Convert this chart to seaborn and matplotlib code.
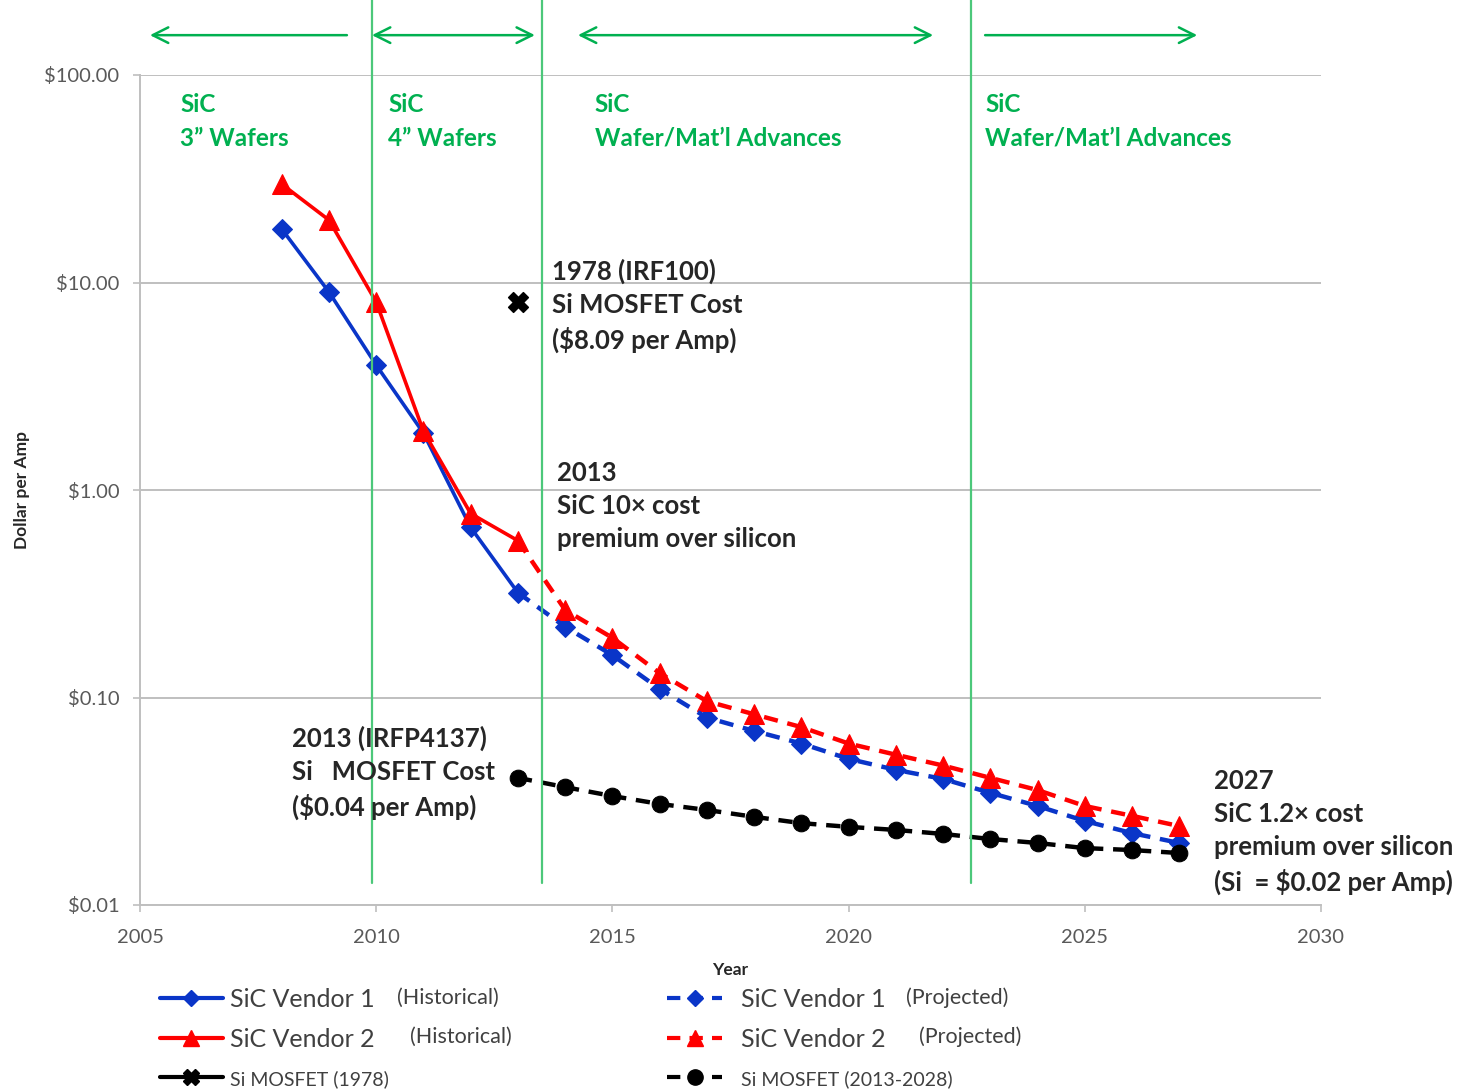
import numpy as np
import pandas as pd
import seaborn as sns
from matplotlib import pyplot as plt
from matplotlib.lines import Line2D
from matplotlib.ticker import FixedLocator, NullLocator, FuncFormatter

# --- data ---
years_hist = [2008, 2009, 2010, 2011, 2012, 2013]
v1_hist = [18.1, 9.0, 4.0, 1.88, 0.66, 0.32]
v2_hist = [29.8, 20.0, 8.05, 1.92, 0.77, 0.57]

years_proj = list(range(2013, 2028))
v1_proj = [0.32, 0.219, 0.16, 0.11, 0.080, 0.069, 0.060, 0.0506, 0.0448,
           0.0405, 0.0347, 0.030, 0.0254, 0.0222, 0.0199]
v2_proj = [0.57, 0.264, 0.194, 0.131, 0.096, 0.083, 0.072, 0.060, 0.053,
           0.047, 0.041, 0.0358, 0.030, 0.0269, 0.024]
si_proj = [0.041, 0.037, 0.0335, 0.0307, 0.0287, 0.0266, 0.0248, 0.0238,
           0.023, 0.022, 0.0208, 0.0199, 0.0188, 0.0184, 0.0178]

si_1978_year = [2013]
si_1978_cost = [8.09]

era_bounds = [2009.92, 2013.5, 2022.6]
yticks = [0.01, 0.1, 1, 10, 100]
xticks = [2005, 2010, 2015, 2020, 2025, 2030]

BLUE = '#0A35C8'
RED = '#FF0000'
GREEN_TXT = '#00B050'
GREEN_LN = '#4CC87A'
DARK = '#262626'

sns.set_theme(style="white")
plt.rcParams['font.family'] = ['Lato', 'DejaVu Sans']

fig = plt.figure(figsize=(14.78, 10.89), dpi=100)
ax = fig.add_axes([140 / 1478, 1 - 905 / 1089, 1181 / 1478, 830 / 1089])

dash = (0, (3.2, 2.2))
sns.lineplot(x=years_hist, y=v1_hist, ax=ax, color=BLUE, lw=2.6, marker='D',
             ms=10, markeredgecolor=BLUE)
sns.lineplot(x=years_hist, y=v2_hist, ax=ax, color=RED, lw=2.6, marker='^',
             ms=14, markeredgecolor=RED)
sns.lineplot(x=years_proj[1:], y=v1_proj[1:], ax=ax, color=BLUE, lw=3.2,
             linestyle='', marker='D', ms=10, markeredgecolor=BLUE)
sns.lineplot(x=years_proj[1:], y=v2_proj[1:], ax=ax, color=RED, lw=3.2,
             linestyle='', marker='^', ms=14, markeredgecolor=RED)
sns.lineplot(x=years_proj, y=v1_proj, ax=ax, color=BLUE, lw=3.2, linestyle=dash)
sns.lineplot(x=years_proj, y=v2_proj, ax=ax, color=RED, lw=3.2, linestyle=dash)
sns.lineplot(x=years_proj, y=si_proj, ax=ax, color='black', lw=3.2,
             linestyle=dash, marker='o', ms=12, markeredgecolor='black')
sns.scatterplot(x=si_1978_year, y=si_1978_cost, ax=ax, color='black',
                marker='X', s=200, edgecolor='black', zorder=5)

ax.set_yscale('log')
ax.set_ylim(0.01, 100)
ax.set_xlim(2005, 2030)
ax.yaxis.set_major_locator(FixedLocator(yticks))
ax.yaxis.set_minor_locator(NullLocator())
ax.yaxis.set_major_formatter(FuncFormatter(lambda v, p: f'${v:,.2f}'))
ax.set_xticks(xticks)
ax.grid(axis='y', color='#BFBFBF', lw=1.4)
ax.grid(axis='x', visible=False)
for s in ['top', 'right']:
    ax.spines[s].set_visible(False)
for s in ['left', 'bottom']:
    ax.spines[s].set_color('#BFBFBF')
    ax.spines[s].set_linewidth(1.4)
ax.tick_params(axis='both', colors='#BFBFBF', labelcolor='#595959',
               labelsize=14.5, length=5, width=1.2, direction='out',
               left=True, bottom=True)
ax.tick_params(axis='y', pad=10)
ax.tick_params(axis='x', pad=12)
ax.set_xlabel('Year', fontsize=12.5, fontweight='bold', color=DARK, labelpad=12)
ax.set_ylabel('Dollar per Amp', fontsize=12.5, fontweight='bold', color=DARK,
              labelpad=10)

# era dividers and arrows
for xb in era_bounds:
    ax.axvline(xb, ymin=0.027, ymax=1.09, color=GREEN_LN, lw=1.6, clip_on=False)

arrows = [(2009.38, 2005.21, '->'), (2009.91, 2013.36, '<->'),
          (2014.27, 2021.79, '<->'), (2022.89, 2027.38, '->')]
for x0, x1, st in arrows:
    ax.annotate('', xy=(x1, 1.048), xytext=(x0, 1.048),
                xycoords=('data', 'axes fraction'),
                textcoords=('data', 'axes fraction'),
                arrowprops=dict(arrowstyle=st, color=GREEN_TXT, lw=1.8,
                                mutation_scale=28, shrinkA=0, shrinkB=0),
                annotation_clip=False)

eras = [(2005.85, 'SiC\n3\u201d Wafers'), (2010.25, 'SiC\n4\u201d Wafers'),
        (2014.63, 'SiC\nWafer/Mat\u2019l Advances'),
        (2022.89, 'SiC\nWafer/Mat\u2019l Advances')]
for xe, txt in eras:
    ax.text(xe, 59.7, txt, color=GREEN_TXT, fontsize=17.5, fontweight='bold',
            va='center', ha='left', linespacing=1.55)

notes = [(2013.72, 7.7, '1978 (IRF100)\nSi MOSFET Cost\n($8.09 per Amp)'),
         (2013.83, 0.837, '2013\nSiC 10\u00d7 cost\npremium over silicon'),
         (2008.22, 0.0433, '2013 (IRFP4137)\nSi   MOSFET Cost\n($0.04 per Amp)'),
         (2027.73, 0.0225, '2027\nSiC 1.2\u00d7 cost\npremium over silicon\n(Si  = $0.02 per Amp)')]
for xn, yn, txt in notes:
    ax.text(xn, yn, txt, color=DARK, fontsize=18.5, fontweight='bold',
            va='center', ha='left', linespacing=1.45, clip_on=False)

# legend
h_left = [Line2D([], [], color=BLUE, lw=3, marker='D', ms=8),
          Line2D([], [], color=RED, lw=3, marker='^', ms=11),
          Line2D([], [], color='black', lw=3, marker='X', ms=11)]
h_right = [Line2D([], [], color=BLUE, lw=3, linestyle=dash, marker='D', ms=8),
           Line2D([], [], color=RED, lw=3, linestyle=dash, marker='^', ms=11),
           Line2D([], [], color='black', lw=3, linestyle=dash, marker='o', ms=11)]
lab_left = ['SiC Vendor 1', 'SiC Vendor 2', 'Si MOSFET (1978)']
lab_right = ['SiC Vendor 1', 'SiC Vendor 2', 'Si MOSFET (2013-2028)']

for hs, labs, x0, hl, tp in [(h_left, lab_left, 160, 2.5, 0.3),
                             (h_right, lab_right, 667, 2.2, 0.75)]:
    leg = fig.legend(hs, labs, loc='upper left',
                     bbox_to_anchor=(x0 / 1478, 1 - 988 / 1089),
                     frameon=False, fontsize=18, handlelength=hl,
                     handletextpad=tp, labelspacing=0.68, borderpad=0,
                     borderaxespad=0)
    for t in leg.get_texts():
        t.set_color('#404040')
    leg.get_texts()[2].set_fontsize(14)

suffix = [(397, 998, '(Historical)'), (410, 1037, '(Historical)'),
          (906, 998, '(Projected)'), (919, 1037, '(Projected)')]
for xs, ys, txt in suffix:
    fig.text(xs / 1478, 1 - ys / 1089, txt, fontsize=15.5, color='#404040',
             va='center', ha='left')

fig.savefig('out.png', dpi=100)
